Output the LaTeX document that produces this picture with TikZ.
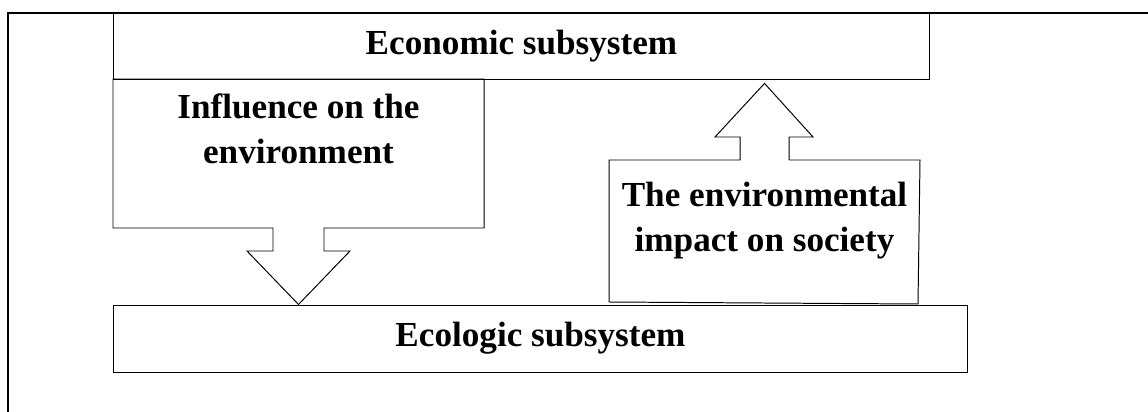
\documentclass[tikz,border=0pt]{standalone}
\usepackage{fontspec}
\setmainfont{Liberation Serif}
\usetikzlibrary{positioning}

\tikzset{
  subsys/.style={draw, line width=0.7pt, inner sep=0pt,
    font=\fontsize{25}{32}\selectfont\bfseries},
  callout/.style={draw, line width=0.7pt, line join=miter},
  calltext/.style={align=center, inner sep=0pt,
    font=\fontsize{25}{32}\selectfont\bfseries},
}

\begin{document}
\begin{tikzpicture}[x=0.025cm, y=-0.025cm]
  \useasboundingbox (0,0) rectangle (1148,412);
  % frame of the table cell
  \draw[line width=1pt] (8,412) -- (8,13) -- (1148,13);

  % the two subsystems
  \node[subsys, minimum width=20.375cm, minimum height=1.65cm] (econ) at (521.5,46) {Economic subsystem};
  \node[subsys, minimum width=21.325cm, minimum height=1.675cm] (ecol) at (540.5,338.5) {Ecologic subsystem};

  % texts of the callouts
  \node[calltext] (infl) at (298.5,129) {Influence on the\\environment};
  \node[calltext] (envi) at (764.5,221) {The environmental\\impact on society};

  % influence on the environment: down to ecologic
  \draw[callout] (113,79) -- (484,79) -- (484,228) -- (324,228) -- (324,251) -- (350,251)
    -- (infl |- ecol.north) -- (247,251) -- (273,251) -- (273,228) -- (113,228) -- cycle;
  % impact on society: up to economic
  \draw[callout] (609,302) -- (609,160) -- (740,160) -- (740,137) -- (715,137)
    -- ([yshift=-2.8pt] envi |- econ.south) -- (813,137) -- (789,137) -- (789,160) -- (920,160) -- (918,304) -- cycle;
\end{tikzpicture}
\end{document}
